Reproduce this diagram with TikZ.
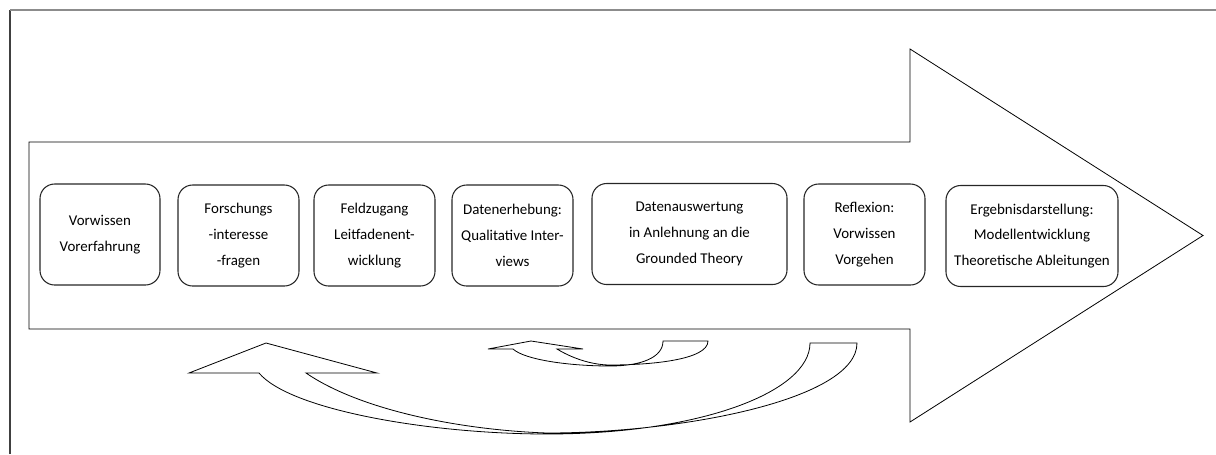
\documentclass[tikz,border=0pt]{standalone}
\usepackage{fontspec}
\setmainfont{Carlito}
\begin{document}
\begin{tikzpicture}[x=0.75pt,y=-0.75pt,
	stufe/.style={draw=black!85, line width=0.8pt, rounded corners=11pt, align=center,
		minimum height=75.75pt, inner sep=2pt, text=black,
		font=\fontsize{11.2}{19.3}\selectfont},
	umriss/.style={draw=black, line width=0.6pt, line join=miter}]
			\useasboundingbox (0,0) rectangle (1216,454);
			% rahmen
			\draw[black!75, line width=1.4pt] (10,454) -- (10,10);
			\draw[black!45, line width=1.4pt] (10,10) -- (1216,10);
			% grosser pfeil
			\draw[umriss] (29,142) -- (910,142) -- (910,49) -- (1203,235.5)
				-- (910,422) -- (910,329) -- (29,329) -- cycle;
			% stufen
			\foreach \name/\cx/\cy/\breite/\txt in {
				vorwissen/100/234.5/120/{Vorwissen\\Vorerfahrung},
				forschung/238.5/235.5/121/{Forschungs\\-interesse\\-fragen},
				feldzugang/374.5/235.5/121/{Feldzugang\\Leitfadenent-\\wicklung},
				erhebung/512.5/235.5/121/{Datenerhebung:\\Qualitative Inter-\\views},
				auswertung/689.5/234/195/{Datenauswertung\\in Anlehnung an die\\Grounded Theory},
				reflexion/864.5/234.5/121/{Reflexion:\\Vorwissen\\Vorgehen},
				ergebnis/1032/236/172/{Ergebnisdarstellung:\\Modellentwicklung\\Theoretische Ableitungen}} {
				\node[stufe, minimum width=\breite*0.75pt] (\name) at (\cx,\cy) {\txt};
			}
			% grosser rueckpfeil
			\draw[umriss] (266,343) -- (377,373) -- (306,373)
				.. controls (360,410) and (460,430) .. (547,433)
				.. controls (680,433) and (857,400) .. (857,343)
				-- (810,343)
				.. controls (810,392) and (700,434) .. (547,434)
				.. controls (430,434) and (290,410) .. (259,373)
				-- (189,373) -- cycle;
			% kleiner rueckpfeil
			\draw[umriss] (531,341) -- (583,349) -- (557,349)
				.. controls (575,360) and (595,365) .. (610,365)
				.. controls (650,365) and (708,360) .. (708,341)
				-- (663,341)
				.. controls (663,358) and (640,366) .. (610,366)
				.. controls (570,366) and (525,360) .. (513,349)
				-- (488,349) -- cycle;
\end{tikzpicture}
\end{document}
